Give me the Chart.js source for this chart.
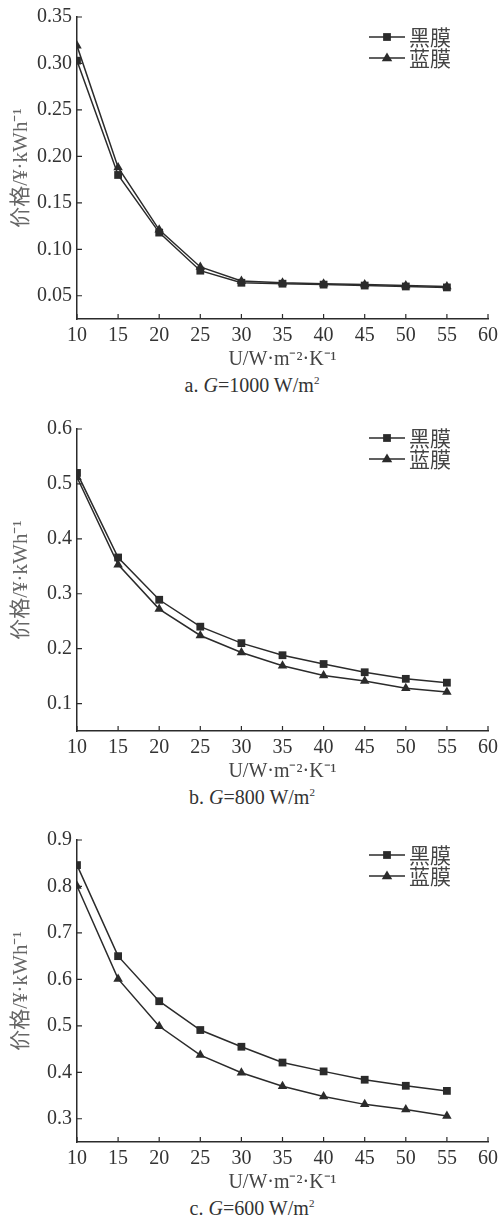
<!DOCTYPE html>
<html>
<head>
<meta charset="utf-8">
<script src="https://cdn.jsdelivr.net/npm/chart.js@4/dist/chart.umd.min.js"></script>
<style>
  body { margin: 0; background: #fff; width: 504px; height: 1226px; overflow: hidden;
         font-family: "Liberation Serif", "Noto Sans CJK SC", serif; }
  .panel { position: absolute; left: 0; width: 504px; height: 412px; }
  .panel canvas { position: absolute; left: 0; top: 0; }
  .cap { position: absolute; left: 0; width: 504px; top: 374px; text-align: center;
         font-size: 20px; line-height: 22px; color: #333; }
  .cap sup { font-size: 11px; line-height: 0; }
</style>
</head>
<body>
<div class="panel" style="top:0px">
  <canvas id="chartA" width="504" height="372"></canvas>
  <div class="cap">a. <i>G</i>=1000 W/m<sup>2</sup></div>
</div>
<div class="panel" style="top:412px">
  <canvas id="chartB" width="504" height="372"></canvas>
  <div class="cap">b. <i>G</i>=800 W/m<sup>2</sup></div>
</div>
<div class="panel" style="top:823px">
  <canvas id="chartC" width="504" height="372"></canvas>
  <div class="cap">c. <i>G</i>=600 W/m<sup>2</sup></div>
</div>
<script>
const uValues = [10, 15, 20, 25, 30, 35, 40, 45, 50, 55];
const xTicks = [10, 15, 20, 25, 30, 35, 40, 45, 50, 55, 60];
const seriesNames = ['黑膜', '蓝膜'];

// G = 1000 W/m2
const blackA = [0.303, 0.180, 0.118, 0.077, 0.064, 0.063, 0.062, 0.061, 0.060, 0.059];
const blueA  = [0.319, 0.188, 0.121, 0.081, 0.066, 0.064, 0.063, 0.062, 0.061, 0.060];
const yTicksA = [0.05, 0.10, 0.15, 0.20, 0.25, 0.30, 0.35];

// G = 800 W/m2
const blackB = [0.520, 0.366, 0.289, 0.240, 0.210, 0.188, 0.172, 0.157, 0.145, 0.138];
const blueB  = [0.512, 0.353, 0.272, 0.224, 0.193, 0.169, 0.151, 0.141, 0.128, 0.121];
const yTicksB = [0.1, 0.2, 0.3, 0.4, 0.5, 0.6];

// G = 600 W/m2
const blackC = [0.846, 0.650, 0.553, 0.491, 0.455, 0.421, 0.402, 0.384, 0.371, 0.360];
const blueC  = [0.801, 0.601, 0.499, 0.437, 0.399, 0.370, 0.348, 0.331, 0.320, 0.306];
const yTicksC = [0.3, 0.4, 0.5, 0.6, 0.7, 0.8, 0.9];

const ink = '#2b2b2b';
const serif = '"Liberation Serif", "Noto Sans CJK SC", serif';

// inward ticks + legend inside the plot, drawn from the chart's scales and datasets
const framePlugin = {
  id: 'frame',
  afterDraw(chart, args, opts) {
    const ctx = chart.ctx, a = chart.chartArea;
    const xs = chart.scales.x, ys = chart.scales.y;
    ctx.save();
    ctx.strokeStyle = ink;
    ctx.lineWidth = 1.2;
    ctx.beginPath();
    xs.ticks.forEach(t => {
      const px = xs.getPixelForValue(t.value);
      ctx.moveTo(px, a.bottom); ctx.lineTo(px, a.bottom - 5);
    });
    ys.ticks.forEach(t => {
      const py = ys.getPixelForValue(t.value);
      ctx.moveTo(a.left, py); ctx.lineTo(a.left + 5, py);
    });
    ctx.stroke();

    chart.data.datasets.forEach((ds, i) => {
      const ly = a.top + opts.top + i * 21;
      const lx = opts.left;
      ctx.strokeStyle = ds.borderColor;
      ctx.fillStyle = ds.borderColor;
      ctx.lineWidth = ds.borderWidth;
      ctx.beginPath();
      ctx.moveTo(lx, ly); ctx.lineTo(lx + 36, ly);
      ctx.stroke();
      const cx = lx + 18, r = ds.pointRadius;
      ctx.beginPath();
      if (ds.pointStyle === 'rect') {
        const s = r * Math.SQRT1_2;
        ctx.rect(cx - s, ly - s, 2 * s, 2 * s);
      } else {
        ctx.moveTo(cx, ly - r);
        ctx.lineTo(cx + r * 0.95, ly + r * 0.6);
        ctx.lineTo(cx - r * 0.95, ly + r * 0.6);
        ctx.closePath();
      }
      ctx.fill();
      ctx.font = '21px "Noto Sans CJK SC"';
      ctx.fillStyle = '#444';
      ctx.textAlign = 'left';
      ctx.textBaseline = 'middle';
      ctx.fillText(ds.label, lx + 40, ly);
    });
    ctx.restore();
  }
};

function makeChart(id, black, blue, yTicks, yMin, decimals, legendTop) {
  const toPoints = arr => arr.map((v, i) => ({ x: uValues[i], y: v }));
  const common = { borderColor: ink, backgroundColor: ink, borderWidth: 1.5,
                   pointRadius: 5.5, pointBorderWidth: 0, tension: 0 };
  new Chart(document.getElementById(id), {
    type: 'line',
    data: {
      datasets: [
        Object.assign({ label: seriesNames[0], data: toPoints(black), pointStyle: 'rect' }, common),
        Object.assign({ label: seriesNames[1], data: toPoints(blue), pointStyle: 'triangle' }, common)
      ]
    },
    options: {
      responsive: false,
      animation: false,
      layout: { padding: { top: 17, right: 16, left: 0, bottom: 0 } },
      plugins: {
        legend: { display: false },
        tooltip: { enabled: false },
        frame: { left: 369, top: legendTop }
      },
      scales: {
        x: {
          type: 'linear', min: 10, max: 60,
          afterBuildTicks: s => { s.ticks = xTicks.map(v => ({ value: v })); },
          afterFit: s => { s.height = 53; },
          grid: { display: false, drawTicks: false },
          border: { display: true, color: ink, width: 1.5 },
          ticks: { color: '#333', padding: 5, font: { family: serif, size: 20 }, maxRotation: 0 },
          title: { display: true, text: 'U/W·m⁻²·K⁻¹', color: '#444', padding: 0,
                   font: { family: serif, size: 20 } }
        },
        y: {
          min: yMin, max: yTicks[yTicks.length - 1],
          afterBuildTicks: s => { s.ticks = yTicks.map(v => ({ value: v })); },
          afterFit: s => { s.width = 77; },
          grid: { display: false, drawTicks: false },
          border: { display: true, color: ink, width: 1.5 },
          ticks: { color: '#333', padding: 5, font: { family: serif, size: 20 },
                   callback: v => v.toFixed(decimals) },
          title: { display: true, text: '价格/¥·kWh⁻¹', color: '#666', padding: { top: 9, bottom: 0 },
                   font: { family: serif, size: 21 } }
        }
      }
    },
    plugins: [framePlugin]
  });
}

makeChart('chartA', blackA, blueA, yTicksA, 0.025, 2, 20);
makeChart('chartB', blackB, blueB, yTicksB, 0.05, 1, 9);
makeChart('chartC', blackC, blueC, yTicksC, 0.25, 1, 15);
</script>
</body>
</html>
